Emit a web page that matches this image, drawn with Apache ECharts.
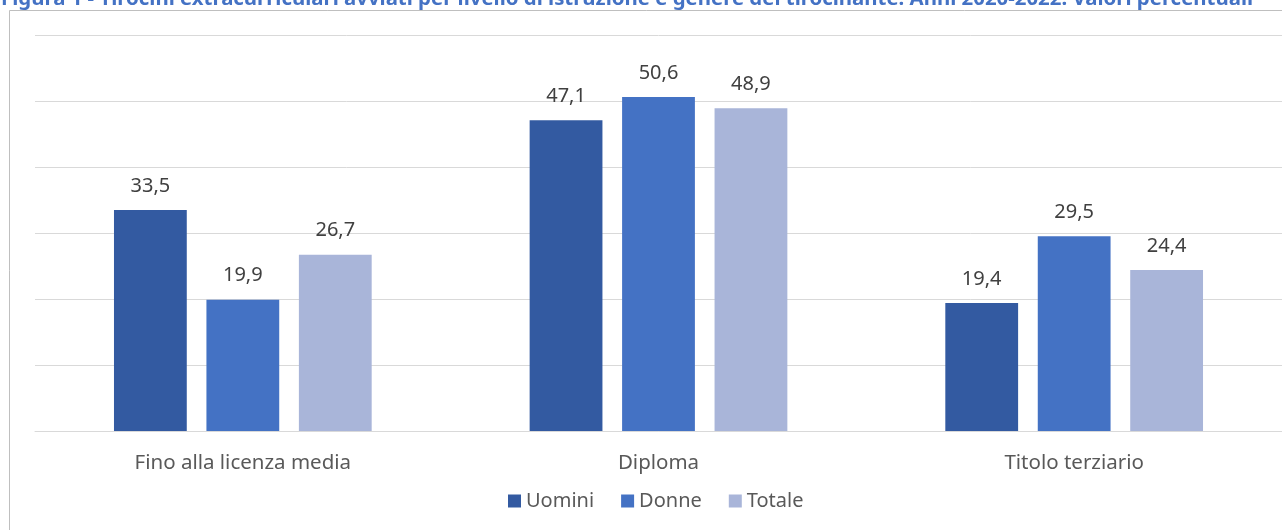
<!DOCTYPE html>
<html>
<head>
<meta charset="utf-8">
<title>Tirocini extracurriculari</title>
<script src="https://cdn.jsdelivr.net/npm/echarts@6/dist/echarts.min.js"></script>
<style>
  html, body { margin: 0; padding: 0; background: #fff; }
  #barChart { width: 1282px; height: 530px; }
</style>
</head>
<body>
<div id="barChart"></div>
<script>
  // dati (valori percentuali)
  var categorie = ['Fino alla licenza media', 'Diploma', 'Titolo terziario']
  var uomini = [33.5, 47.1, 19.4]
  var donne = [19.9, 50.6, 29.5]
  var totale = [26.7, 48.9, 24.4]
  var nomiSerie = ['Uomini', 'Donne', 'Totale']
  var titolo = 'Figura 1 - Tirocini extracurriculari avviati per livello di istruzione e genere del tirocinante. Anni 2020-2022. Valori percentuali'

  var font = '"Noto Sans", sans-serif'
  var etichetta = {
    show: true,
    position: 'top',
    distance: 14,
    fontFamily: font,
    fontSize: 20,
    color: '#404040',
    formatter: function (p) { return p.value.toFixed(1).replace('.', ',') }
  }

  function serie(nome, dati, colore) {
    return {
      name: nome,
      type: 'bar',
      data: dati,
      barGap: '27%',
      barCategoryGap: '38%',
      itemStyle: { color: colore },
      label: etichetta
    }
  }

  var barChart = echarts.init(document.getElementById('barChart'))
  barChart.setOption({
    animation: false,
    title: {
      text: titolo,
      left: -4,
      top: -16,
      textStyle: { fontFamily: font, fontSize: 20.4, fontWeight: 'bold', color: '#4472C4' }
    },
    graphic: [{
      type: 'rect',
      shape: { x: 9.5, y: 10.5, width: 1400, height: 600 },
      style: { fill: 'none', stroke: '#BFBFBF', lineWidth: 1 },
      z: -1
    }],
    grid: { left: 35, right: -1, top: 35, bottom: 99 },
    legend: {
      data: nomiSerie,
      left: 503,
      top: 486,
      itemWidth: 13,
      itemHeight: 13,
      itemGap: 27,
      icon: 'rect',
      textStyle: { fontFamily: font, fontSize: 20, color: '#595959' }
    },
    xAxis: {
      type: 'category',
      data: categorie,
      axisTick: { show: false },
      axisLine: { lineStyle: { color: '#D9D9D9', width: 1 } },
      axisLabel: { margin: 22, fontFamily: font, fontSize: 20.5, color: '#595959' }
    },
    yAxis: {
      type: 'value',
      min: 0,
      max: 60,
      interval: 10,
      axisLabel: { show: false },
      splitLine: { lineStyle: { color: '#D9D9D9', width: 1 } }
    },
    series: [
      serie(nomiSerie[0], uomini, '#335AA1'),
      serie(nomiSerie[1], donne, '#4472C4'),
      serie(nomiSerie[2], totale, '#A9B5D9')
    ]
  })
</script>
</body>
</html>
